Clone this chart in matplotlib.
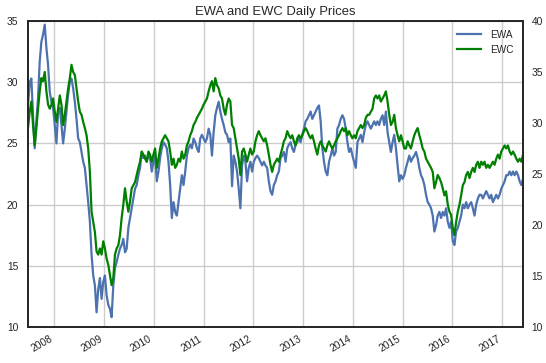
import numpy as np
import pandas as pd
import matplotlib
matplotlib.use("Agg")
import matplotlib.pyplot as plt
import matplotlib.dates as mdates

# values, roughly every 12 days
start_date = "2007-06-23"
end_date = "2017-06-02"

ewa = [
    28.1, 30.0, 30.3, 27.3, 24.6, 26.8, 28.7, 31.7, 33.3, 33.9, 34.7, 32.8, 31.4, 29.2, 28.4, 27.9,
    26.5, 25.0, 27.6, 27.9, 26.5, 25.0, 26.2, 27.6, 29.0, 30.0, 30.3, 29.5, 28.4, 27.0, 25.4, 25.1,
    24.3, 23.5, 23.0, 21.6, 20.2, 18.6, 15.9, 14.2, 13.4, 11.2, 13.1, 14.0, 12.3, 13.7, 14.2, 12.6,
    11.8, 11.5, 10.8, 13.4, 14.8, 15.3, 15.9, 16.4, 16.7, 17.2, 16.1, 16.4, 18.1, 18.9, 19.7, 20.5,
    21.3, 21.6, 22.4, 23.0, 24.3, 23.8, 24.0, 23.5, 24.0, 23.8, 22.7, 23.5, 24.0,
    # 2010 - 2012
    21.9, 22.7, 23.8, 24.6, 25.1, 24.9, 24.6, 23.5, 21.6, 18.9, 20.2, 19.4, 19.1, 20.2, 21.3, 22.4,
    21.6, 22.7, 24.0, 24.6, 24.9, 24.6, 25.4, 25.1, 24.6, 24.3, 25.4, 25.7, 25.4, 25.1, 25.4, 26.2,
    25.7, 24.0, 25.9, 27.3, 27.9, 28.4, 27.6, 27.0, 26.5, 25.9, 25.7, 25.1, 25.4, 21.5, 24.0, 23.5,
    22.7, 21.3, 19.7, 23.2, 24.0, 23.5, 21.9, 23.0, 23.5, 22.7, 23.5, 23.8, 24.0, 23.8, 23.5, 23.2,
    23.5, 23.2, 23.0, 21.9, 21.1, 20.8, 21.6, 21.9, 22.4, 22.7,
    # 2012 - 2015
    23.8, 24.0, 24.3, 23.5, 24.6, 24.9, 25.1, 24.6, 24.3, 24.9, 25.1, 25.4, 25.1, 25.7, 26.2, 26.8,
    27.0, 27.3, 27.6, 27.0, 27.3, 27.6, 27.9, 28.1, 26.8, 24.6, 23.5, 22.7, 22.4, 23.5, 24.0, 24.6,
    24.0, 24.3, 26.2, 26.5, 27.0, 27.3, 27.0, 26.2, 25.1, 24.3, 24.6, 24.0, 23.5, 23.0, 25.1, 25.4,
    25.7, 25.1, 25.9, 26.5, 26.8, 26.5, 26.2, 26.5, 26.8, 26.5, 26.8, 26.5, 27.0, 27.3, 26.5, 27.6,
    25.9, 25.1, 24.3, 25.1, 25.7, 24.6, 23.2, 21.9, 22.4, 22.1, 22.4,
    # 2015 - 2017
    23.0, 23.5, 24.0, 23.5, 23.8, 24.0, 24.3, 23.8, 23.0, 22.4, 22.1, 21.6, 20.8, 20.2, 20.0, 19.7,
    19.1, 17.8, 18.3, 19.1, 19.4, 18.9, 19.4, 19.1, 19.7, 18.6, 18.1, 18.6, 17.0, 16.7, 17.8, 18.1,
    18.6, 19.1, 20.0, 19.7, 20.2, 19.7, 20.0, 20.2, 19.7, 19.1, 20.0, 20.5, 20.8, 20.8, 20.5, 20.8,
    21.1, 20.8, 20.5, 20.8, 20.2, 20.5, 20.8, 20.5, 20.8, 21.3, 21.6, 21.9, 22.4, 22.4, 22.7, 22.4,
    22.7, 22.4, 22.7, 22.4, 21.9, 21.6, 22.1,
]

ewc = [
    29.5, 31.1, 32.1, 29.8, 27.8, 29.5, 31.4, 33.1, 34.4, 34.1, 35.0, 33.1, 31.8, 31.4, 31.8, 32.4,
    31.1, 30.1, 31.4, 32.7, 31.8, 29.8, 30.8, 32.1, 33.4, 34.4, 35.7, 35.0, 34.7, 33.4, 32.1, 31.1,
    30.8, 30.1, 29.5, 28.8, 27.5, 25.2, 21.3, 20.3, 19.3, 17.4, 17.1, 17.7, 17.1, 18.4, 17.7, 16.7,
    16.1, 15.1, 14.1, 14.8, 17.1, 17.7, 18.0, 19.0, 20.7, 22.0, 23.6, 22.3, 21.3, 22.3, 23.6, 23.9,
    24.2, 24.9, 25.6, 26.2, 27.2, 26.9, 26.5, 26.2, 27.2, 26.9, 26.2, 26.9, 27.5,
    # 2010 - 2012
    25.6, 26.5, 27.5, 28.2, 28.5, 28.8, 28.5, 28.2, 27.2, 25.9, 26.5, 25.6, 25.9, 26.5, 26.2, 27.2,
    26.5, 26.9, 27.8, 28.2, 28.8, 29.2, 29.8, 30.1, 30.5, 30.8, 31.1, 31.4, 31.8, 32.1, 32.4, 33.1,
    33.7, 34.1, 33.1, 34.4, 33.7, 33.4, 32.7, 32.4, 31.4, 30.8, 31.8, 32.4, 32.1, 29.8, 29.5, 28.5,
    27.5, 26.5, 24.9, 27.2, 27.5, 26.9, 26.2, 26.9, 27.5, 26.9, 27.2, 28.2, 28.8, 29.2, 28.8, 28.5,
    28.2, 28.5, 27.8, 26.9, 25.9, 25.2, 25.9, 26.2, 26.5, 26.2,
    # 2012 - 2015
    26.9, 27.5, 28.2, 28.5, 29.2, 28.8, 28.5, 28.8, 28.2, 27.8, 28.5, 28.8, 28.5, 28.8, 29.2, 29.5,
    29.2, 28.8, 28.5, 28.8, 28.2, 27.5, 26.9, 27.8, 28.2, 27.8, 27.5, 27.2, 27.8, 28.2, 27.8, 27.5,
    27.8, 28.2, 28.5, 28.8, 29.2, 29.5, 29.2, 29.5, 28.8, 29.2, 28.8, 28.5, 28.8, 28.5, 29.2, 29.5,
    29.8, 29.5, 29.8, 30.5, 30.8, 30.8, 31.1, 31.4, 32.4, 32.7, 32.4, 32.7, 32.1, 32.4, 32.7, 33.1,
    32.1, 30.8, 29.8, 30.1, 30.8, 29.5, 28.8, 28.2, 28.8, 28.2, 27.5,
    # 2015 - 2017
    27.5, 28.2, 27.8, 27.5, 28.2, 28.8, 29.2, 29.5, 28.8, 28.2, 27.5, 27.2, 26.5, 26.2, 25.9, 25.6,
    25.2, 23.6, 24.2, 24.9, 24.6, 24.2, 23.6, 22.9, 23.3, 22.0, 21.3, 21.0, 19.7, 19.0, 20.3, 21.3,
    22.0, 22.9, 23.9, 24.2, 24.9, 25.2, 24.6, 25.2, 25.6, 25.2, 25.9, 26.2, 25.6, 26.2, 25.9, 26.2,
    25.6, 25.9, 25.6, 25.9, 26.2, 25.9, 26.5, 26.9, 26.5, 27.2, 27.5, 27.8, 27.5, 27.8, 27.2, 26.9,
    27.2, 26.9, 26.5, 26.2, 26.5, 26.2, 26.9,
]

ewa_s = pd.Series(ewa, index=pd.date_range(start_date, end_date, periods=len(ewa)))
ewc_s = pd.Series(ewc, index=pd.date_range(start_date, end_date, periods=len(ewc)))

plt.rcParams['font.family'] = ['Liberation Sans', 'DejaVu Sans']
plt.rcParams['text.color'] = '0.15'
plt.rcParams['xtick.color'] = '0.15'
plt.rcParams['ytick.color'] = '0.15'

fig = plt.figure(figsize=(5.46, 3.63), dpi=100)
ax = fig.add_axes([0.0513, 0.0992, 0.9066, 0.8430])
ax2 = ax.twinx()

l1, = ax.plot(ewa_s.index, ewa_s.values, color='#4C72B0', lw=1.6, label='EWA')
l2, = ax2.plot(ewc_s.index, ewc_s.values, color='green', lw=1.6, label='EWC')

ax.set_xlim(ewa_s.index[0], ewa_s.index[-1])
ax.set_ylim(10, 35)
ax2.set_ylim(10, 40)
ax.set_yticks([10, 15, 20, 25, 30, 35])
ax2.set_yticks([10, 15, 20, 25, 30, 35, 40])

ax.xaxis.set_major_locator(mdates.YearLocator())
ax.xaxis.set_major_formatter(mdates.DateFormatter('%Y'))

ax.grid(True, color='0.8', lw=1)
ax.set_axisbelow(True)
ax.tick_params(axis='y', length=0, labelsize=7.4, pad=7)
ax.tick_params(axis='x', length=0, labelsize=7.4, pad=5)
ax2.tick_params(length=0, labelsize=7.4, pad=6)
for a in (ax, ax2):
    for sp in a.spines.values():
        sp.set_color('0.15')
        sp.set_linewidth(1.25)

for lab in ax.get_xticklabels():
    lab.set_rotation(30)
    lab.set_ha('right')

ax.set_title('EWA and EWC Daily Prices', fontsize=9.4, pad=4)
ax2.legend([l1, l2], ['EWA', 'EWC'], loc='upper right', frameon=False, fontsize=7.2,
           handlelength=2.4, handletextpad=1.0)

fig.savefig('out.png', dpi=100)
